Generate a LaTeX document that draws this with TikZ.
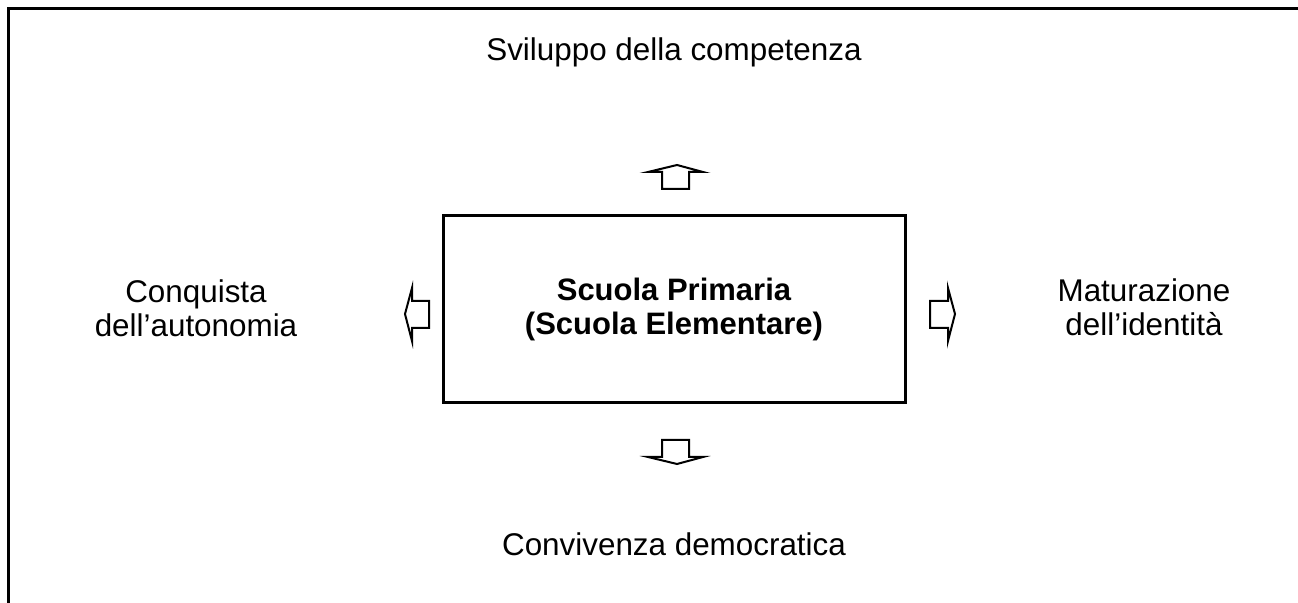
\documentclass[tikz,border=0pt]{standalone}
\usepackage{fontspec}
\setmainfont{Liberation Sans}
\begin{document}
\begin{tikzpicture}[x=0.5pt,y=-0.5pt,
  lbl/.style={align=center,font=\fontsize{15.7}{17}\selectfont,inner sep=0pt},
  mainbox/.style={draw,line width=1.5pt,minimum width=231pt,minimum height=93.5pt,align=center,font=\fontsize{15.5}{17}\selectfont\bfseries},
  blockarrow/.style={draw,line width=1pt,line join=miter},
  frameline/.style={line width=1.5pt}]
\useasboundingbox (0,0) rectangle (1298,603);
\draw[frameline] (1298,9) -- (8,9) -- (8,603);
\node[mainbox] (box) at (674,309.5) {Scuola Primaria\\(Scuola Elementare)};
\node[lbl,anchor=base] (top) at (674,61) {Sviluppo della competenza};
\node[lbl,anchor=base] (bot) at (674,556) {Convivenza democratica};
\node[lbl,anchor=base] (left) at (196,337) {Conquista\\dell’autonomia};
\node[lbl,anchor=base] (right) at (1144,336) {Maturazione\\dell’identità};
% block arrows
\draw[blockarrow] (662,189) -- (662,172) -- (648,172) -- (677,165) -- (703,172) -- (689,172) -- (689,189) -- cycle;
\draw[blockarrow] (662,440) -- (689,440) -- (689,457) -- (703,457) -- (677,464) -- (648,457) -- (662,457) -- cycle;
\draw[blockarrow] (429,301) -- (412,301) -- (412,288) -- (405,314) -- (412,341) -- (412,328) -- (429,328) -- cycle;
\draw[blockarrow] (930,301) -- (948,301) -- (948,288) -- (955,314) -- (948,341) -- (948,328) -- (930,328) -- cycle;
\end{tikzpicture}
\end{document}
